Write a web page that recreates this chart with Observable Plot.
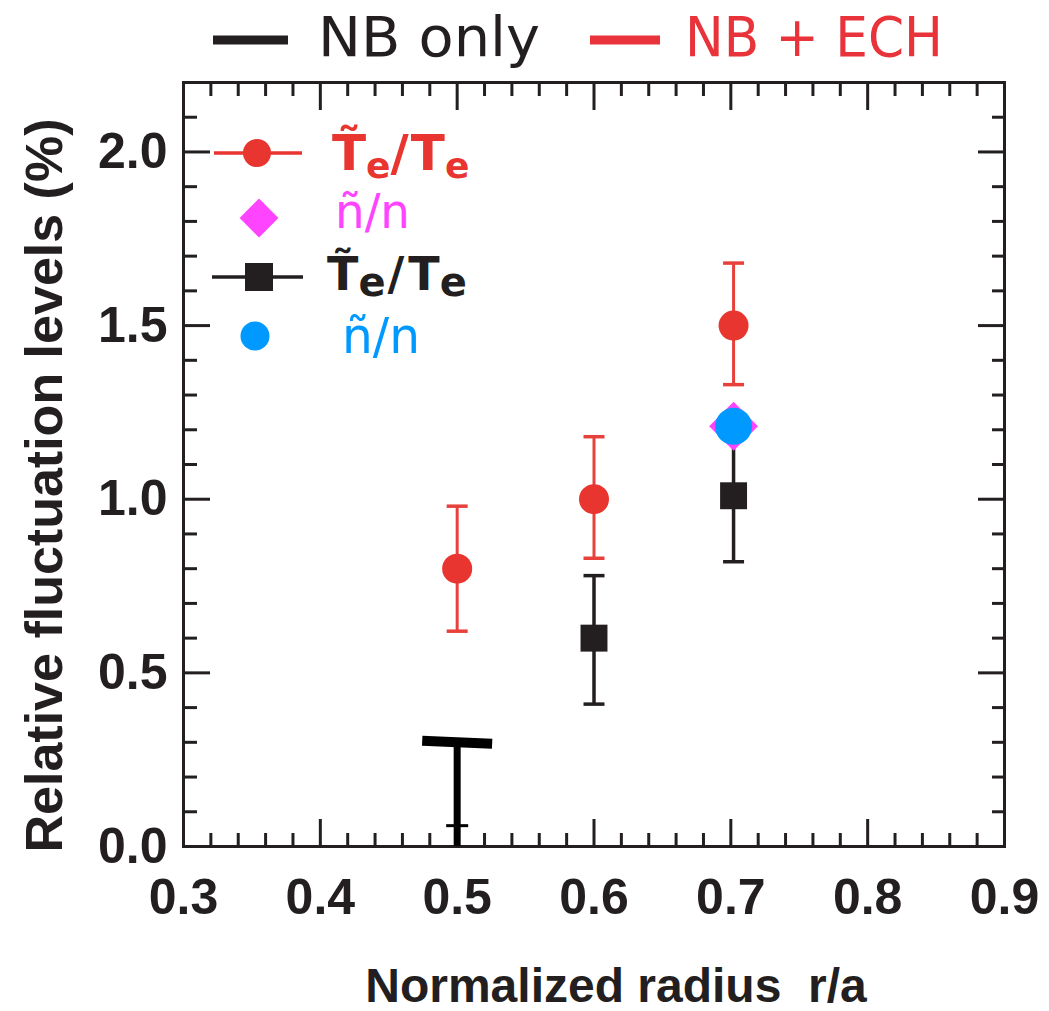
<!DOCTYPE html>
<html><head><meta charset="utf-8">
<script src="https://cdn.jsdelivr.net/npm/d3@7"></script>
<script src="https://cdn.jsdelivr.net/npm/@observablehq/plot@0.6"></script>
<style>
html,body{margin:0;padding:0;background:#fff;}
#chart{width:1049px;height:1011px;}
</style></head>
<body><div id="chart"></div>
<script>
// ---- data ----
const radiusECH = [0.5, 0.6, 0.702];
const teECH = [0.80, 1.00, 1.50];
const teECHLow = [0.62, 0.83, 1.33];
const teECHHigh = [0.98, 1.18, 1.68];

const radiusNB = [0.6, 0.702];
const teNB = [0.60, 1.01];
const teNBLow = [0.41, 0.82];
const teNBHigh = [0.78, 1.21];

const radiusDensity = [0.702];
const densityECH = [1.21];
const densityNB = [1.21];

const radiusNBLimit = [0.5];
const nbLimitTop = [0.30];
const nbLimitCap = [0.06];

const xMajorTicks = [0.3, 0.4, 0.5, 0.6, 0.7, 0.8, 0.9];
const xMinorTicks = [0.32, 0.34, 0.36, 0.38, 0.42, 0.44, 0.46, 0.48, 0.52, 0.54, 0.56, 0.58,
                     0.62, 0.64, 0.66, 0.68, 0.72, 0.74, 0.76, 0.78, 0.82, 0.84, 0.86, 0.88];
const yMajorTicks = [0.0, 0.5, 1.0, 1.5, 2.0];
const yMinorTicks = [0.1, 0.2, 0.3, 0.4, 0.6, 0.7, 0.8, 0.9, 1.1, 1.2, 1.3, 1.4, 1.6, 1.7, 1.8, 1.9, 2.1];

const xLabel = "Normalized radius  r/a";
const yLabel = "Relative fluctuation levels (%)";
const seriesLabels = ["NB only", "NB + ECH"];

// ---- styles ----
const INK = "#231f20";
const RED = "#e8352f";
const RED_BAR = "#e8403b";
const MAGENTA = "#ff44ff";
const BLUE = "#0099ff";
const AXIS_FONT = "'Liberation Sans', Arial, Helvetica, sans-serif";

const ech = radiusECH.map((r, i) => ({r, v: teECH[i], lo: teECHLow[i], hi: teECHHigh[i]}));
const nb = radiusNB.map((r, i) => ({r, v: teNB[i], lo: teNBLow[i], hi: teNBHigh[i]}));
const dens = radiusDensity.map((r, i) => ({r, ech: densityECH[i], nb: densityNB[i]}));
const lim = radiusNBLimit.map((r, i) => ({r, top: nbLimitTop[i], cap: nbLimitCap[i]}));

const capSymbol = {draw(ctx, size) { const w = Math.sqrt(size / Math.PI); ctx.moveTo(-w, 0); ctx.lineTo(w, 0); }};
const fmt = d3.format(".1f");
const tickOpts = {stroke: INK, strokeWidth: 3, label: null};

const chart = Plot.plot({
  width: 1049, height: 1011,
  marginLeft: 183, marginRight: 45, marginTop: 82, marginBottom: 165,
  x: {domain: [0.3, 0.9]},
  y: {domain: [0, 2.2]},
  style: {fontFamily: AXIS_FONT, fontWeight: "bold", color: INK, background: "#fff"},
  marks: [
    Plot.frame({stroke: INK, strokeWidth: 3}),
    Plot.axisX({anchor: "bottom", ticks: xMajorTicks, tickSize: -27, tickPadding: 59, tickFormat: fmt, fontSize: 50, fontWeight: "bold", fill: INK, ...tickOpts}),
    Plot.axisX({anchor: "bottom", ticks: xMinorTicks, tickSize: -13, fill: "none", ...tickOpts}),
    Plot.axisX({anchor: "top", ticks: xMajorTicks, tickSize: -27, fill: "none", ...tickOpts}),
    Plot.axisX({anchor: "top", ticks: xMinorTicks, tickSize: -13, fill: "none", ...tickOpts}),
    Plot.axisY({anchor: "left", ticks: yMajorTicks, tickSize: -27, tickPadding: 43, tickFormat: fmt, fontSize: 50, fontWeight: "bold", fill: INK, ...tickOpts}),
    Plot.axisY({anchor: "left", ticks: yMinorTicks, tickSize: -14, fill: "none", ...tickOpts}),
    Plot.axisY({anchor: "right", ticks: yMajorTicks, tickSize: -27, fill: "none", ...tickOpts}),
    Plot.axisY({anchor: "right", ticks: yMinorTicks, tickSize: -13, fill: "none", ...tickOpts}),

    Plot.text([xLabel], {frameAnchor: "bottom", textAnchor: "middle", text: d => d, lineAnchor: "bottom", dx: 22, dy: 155, fontSize: 48, fontWeight: "bold", fill: INK}),
    Plot.text([yLabel], {frameAnchor: "left", textAnchor: "middle", text: d => d, rotate: -90, lineAnchor: "bottom", dx: -122, dy: 21, fontSize: 52, fontWeight: "bold", fill: INK}),

    // NB only: upper-limit marker at r/a = 0.5
    Plot.ruleX(lim, {x: "r", y1: 0, y2: "top", stroke: "#000", strokeWidth: 7}),
    Plot.dot(lim, {x: "r", y: "top", symbol: capSymbol, r: 35, rotate: 2.5, stroke: "#000", strokeWidth: 10, fill: "none"}),
    Plot.dot(lim, {x: "r", y: "cap", symbol: capSymbol, r: 11, stroke: "#000", strokeWidth: 3, fill: "none"}),

    // NB + ECH: Te fluctuations
    Plot.ruleX(ech, {x: "r", y1: "lo", y2: "hi", stroke: RED_BAR, strokeWidth: 3}),
    Plot.dot(ech, {x: "r", y: "lo", symbol: capSymbol, r: 10.5, stroke: RED_BAR, strokeWidth: 3.5, fill: "none"}),
    Plot.dot(ech, {x: "r", y: "hi", symbol: capSymbol, r: 10.5, stroke: RED_BAR, strokeWidth: 3.5, fill: "none"}),
    Plot.dot(ech, {x: "r", y: "v", r: 15, fill: RED, stroke: "none"}),

    // NB only: Te fluctuations
    Plot.ruleX(nb, {x: "r", y1: "lo", y2: "hi", stroke: INK, strokeWidth: 3.5}),
    Plot.dot(nb, {x: "r", y: "lo", symbol: capSymbol, r: 10.5, stroke: INK, strokeWidth: 3.5, fill: "none"}),
    Plot.dot(nb, {x: "r", y: "hi", symbol: capSymbol, r: 10.5, stroke: INK, strokeWidth: 3.5, fill: "none"}),
    Plot.dot(nb, {x: "r", y: "v", symbol: "square", r: 15.2, fill: INK, stroke: "none"}),

    // density fluctuations
    Plot.dot(dens, {x: "r", y: "ech", symbol: "square", rotate: 45, r: 19.5, fill: MAGENTA, stroke: "none"}),
    Plot.dot(dens, {x: "r", y: "nb", r: 18.5, fill: BLUE, stroke: "none"})
  ]
});

document.getElementById("chart").appendChild(chart);
const svgSel = d3.select(chart);

// ---- top legend ----
const LEG_FONT = "'DejaVu Sans', 'Open Sans', sans-serif";
const topColors = [INK, "#e8333a"];
const topLineX = [[213, 288], [590, 660]];
const topTextX = [318, 685];
const topTextLen = [222, 258];
const topLegend = svgSel.append("g").attr("aria-label", "series legend").attr("text-anchor", "start");
seriesLabels.forEach((lab, i) => {
  topLegend.append("line").attr("x1", topLineX[i][0]).attr("x2", topLineX[i][1]).attr("y1", 40).attr("y2", 40)
    .attr("stroke", topColors[i]).attr("stroke-width", 9);
  topLegend.append("text").attr("x", topTextX[i]).attr("y", 56).attr("fill", topColors[i])
    .attr("font-family", LEG_FONT).attr("font-size", 55).attr("font-weight", "normal")
    .attr("textLength", topTextLen[i]).attr("lengthAdjust", "spacingAndGlyphs").text(lab);
});

// ---- inner legend ----
const leg = svgSel.append("g").attr("aria-label", "quantity legend").attr("font-family", LEG_FONT).attr("text-anchor", "start");
function teLabel(x, y, color, size, subSize, gaps, sub) {
  const t = leg.append("text").attr("x", x).attr("y", y).attr("fill", color).attr("font-size", size).attr("font-weight", "bold");
  t.append("tspan").text("T\u0303");
  t.append("tspan").attr("font-size", subSize).attr("dx", gaps[0]).attr("dy", sub).text("e");
  t.append("tspan").attr("dx", gaps[1]).attr("dy", -sub).text("/");
  t.append("tspan").attr("dx", gaps[2]).text("T");
  t.append("tspan").attr("font-size", subSize).attr("dx", gaps[3]).attr("dy", sub).text("e");
}
// row 1: NB+ECH Te
leg.append("line").attr("x1", 214).attr("x2", 302).attr("y1", 153).attr("y2", 153).attr("stroke", RED).attr("stroke-width", 3.5);
leg.append("circle").attr("cx", 257).attr("cy", 153).attr("r", 14).attr("fill", RED);
teLabel(332, 170, RED, 50, 36, [0, 0, 2, 0], 8);
// row 2: NB+ECH density
leg.append("path").attr("transform", "translate(259,218) rotate(45)").attr("d", d3.symbol(d3.symbolSquare, 27.5 * 27.5)()).attr("fill", MAGENTA);
leg.append("text").attr("x", 335).attr("y", 228).attr("fill", MAGENTA).attr("font-size", 48).attr("font-weight", "normal")
  .attr("textLength", 75).attr("lengthAdjust", "spacingAndGlyphs").text("ñ/n");
// row 3: NB only Te
leg.append("line").attr("x1", 212).attr("x2", 303).attr("y1", 277).attr("y2", 277).attr("stroke", INK).attr("stroke-width", 3.5);
leg.append("rect").attr("x", 245).attr("y", 263).attr("width", 28).attr("height", 28).attr("fill", INK);
teLabel(327, 290, INK, 46, 40, [0, 2, 4, 0], 6);
// row 4: NB only density
leg.append("circle").attr("cx", 255).attr("cy", 336).attr("r", 14.5).attr("fill", BLUE);
leg.append("text").attr("x", 342).attr("y", 353).attr("fill", BLUE).attr("font-size", 50).attr("font-weight", "normal")
  .attr("textLength", 78).attr("lengthAdjust", "spacingAndGlyphs").text("ñ/n");
</script>
</body></html>
